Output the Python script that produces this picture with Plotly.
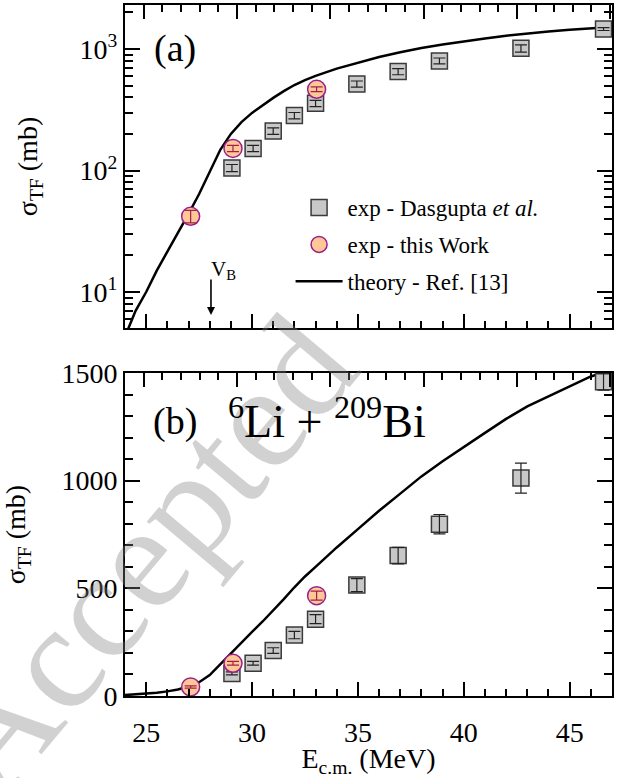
import plotly.graph_objects as go

# ---------------- data ----------------
E_das = [29.05, 30.05, 31.0, 32.0, 33.0, 34.95, 36.9, 38.85, 42.7, 46.6]
sig_das = [105, 152, 211, 283, 357, 515, 652, 798, 1012, 1460]
err_das = [7, 9, 13, 17, 21, 30, 38, 45, 70, 40]

E_tw = [27.1, 29.1, 33.05]
sig_tw = [42, 152, 466]
err_tw = [5, 9, 21]

E_th = [24.0, 24.5, 25.0, 25.5, 26.0, 26.5, 27.0, 27.5, 28.0, 28.5, 29.0, 29.5,
        30.0, 30.5, 31.0, 31.5, 32.0, 32.5, 33.0, 34.0, 35.0, 36.0, 37.0, 38.0,
        39.0, 40.0, 41.0, 42.0, 43.0, 44.0, 45.0, 46.0, 47.0]
sig_th = [4.3, 7.0, 10.0, 15.0, 21.5, 30.5, 44, 64, 97, 148, 200, 250,
          298, 346, 396, 450, 505, 555, 600, 690, 775, 860, 940, 1020,
          1090, 1158, 1222, 1287, 1345, 1392, 1437, 1484, 1515]

V_B = 28.06

FONT = "Liberation Serif, Times New Roman, serif"
SQ_FILL, SQ_LINE = "#c8c8c8", "#3a3a3a"
CI_FILL, CI_LINE = "#ffc896", "#9b1f8a"

fig = go.Figure()

for k, (xa, ya) in enumerate([("x", "y"), ("x2", "y2")]):
    first = (k == 0)
    fig.add_trace(go.Scatter(x=E_th, y=sig_th, mode="lines", xaxis=xa, yaxis=ya,
                             line=dict(color="black", width=2.5),
                             name="theory - Ref. [13]", showlegend=first, legendrank=3,
                             legendgroup="th"))
    fig.add_trace(go.Scatter(x=E_das, y=sig_das, mode="markers", xaxis=xa, yaxis=ya,
                             marker=dict(symbol="square", size=16, color=SQ_FILL,
                                         line=dict(color=SQ_LINE, width=1.5)),
                             name="exp - Dasgupta <i>et al.</i>", showlegend=first,
                             legendrank=1, legendgroup="das"))
    fig.add_trace(go.Scatter(x=E_das, y=sig_das, mode="markers", xaxis=xa, yaxis=ya,
                             marker=dict(size=1, opacity=0),
                             error_y=dict(type="data", array=err_das, color="#222222",
                                          thickness=1.2, width=6),
                             showlegend=False, hoverinfo="skip", legendgroup="das"))
    fig.add_trace(go.Scatter(x=E_tw, y=sig_tw, mode="markers", xaxis=xa, yaxis=ya,
                             marker=dict(symbol="circle", size=18, color=CI_FILL,
                                         line=dict(color=CI_LINE, width=1.5)),
                             name="exp - this Work", showlegend=first, legendrank=2,
                             legendgroup="tw"))
    fig.add_trace(go.Scatter(x=E_tw, y=sig_tw, mode="markers", xaxis=xa, yaxis=ya,
                             marker=dict(size=1, opacity=0),
                             error_y=dict(type="data", array=err_tw, color="#a0204a",
                                          thickness=1.2, width=6),
                             showlegend=False, hoverinfo="skip", legendgroup="tw"))

# dummy traces for top (mirror) axes
fig.add_trace(go.Scatter(x=[], y=[], xaxis="x3", yaxis="y", showlegend=False))
fig.add_trace(go.Scatter(x=[], y=[], xaxis="x4", yaxis="y2", showlegend=False))

tickfont = dict(family=FONT, size=28, color="black")
common_x = dict(showline=True, linewidth=2, linecolor="black", ticks="inside",
                ticklen=14, tickwidth=1.5, tickcolor="black", showgrid=False,
                zeroline=False, tick0=0, dtick=5,
                minor=dict(ticks="inside", ticklen=7, tickwidth=1.5, tickcolor="black",
                           dtick=1, tick0=0, showgrid=False))
top_x = dict(common_x, range=[24, 50.1], side="top", showticklabels=False)

dec_minor = [m * 10 ** e for e in range(0, 4) for m in range(2, 10)]

D_TOP = [0.5326, 1.0]
D_BOT = [0.0, 0.4674]

ytitle_font = dict(family=FONT, size=28, color="black")

fig.update_layout(
    width=622, height=778,
    margin=dict(l=125, r=10, t=5, b=82, autoexpand=False),
    paper_bgcolor="white", plot_bgcolor="white",
    font=dict(family=FONT, color="black"),
    xaxis=dict(common_x, range=[24, 47], anchor="y", domain=[0, 1], showticklabels=False),
    xaxis3=dict(top_x, overlaying="x", anchor="y"),
    xaxis2=dict(common_x, range=[24, 47], anchor="y2", domain=[0, 1],
                tickfont=tickfont, ticklabelstandoff=10,
                title=dict(text="E<sub>c.m.</sub> (MeV)", font=dict(family=FONT, size=28),
                           standoff=6)),
    xaxis4=dict(top_x, overlaying="x2", anchor="y2"),
    yaxis=dict(type="log", range=[0.704, 3.362], domain=D_TOP, anchor="x",
               showline=True, linewidth=2, linecolor="black", mirror="ticks",
               ticks="inside", ticklen=15, tickwidth=1.5, tickcolor="black",
               tickvals=[10, 100, 1000],
               ticktext=["10<sup>1</sup>", "10<sup>2</sup>", "10<sup>3</sup>"],
               tickfont=tickfont, showgrid=False, zeroline=False,
               minor=dict(ticks="inside", ticklen=8, tickwidth=1.5, tickcolor="black",
                          tickvals=dec_minor, showgrid=False),
               title=dict(text="σ<sub>TF</sub> (mb)", font=ytitle_font, standoff=34)),
    yaxis2=dict(range=[0, 1500], domain=D_BOT, anchor="x2",
                showline=True, linewidth=2, linecolor="black", mirror="ticks",
                ticks="inside", ticklen=15, tickwidth=1.5, tickcolor="black",
                tick0=0, dtick=500, tickfont=tickfont, showgrid=False, zeroline=False,
                minor=dict(ticks="inside", ticklen=8, tickwidth=1.5, tickcolor="black",
                           dtick=100, tick0=0, showgrid=False),
                title=dict(text="σ<sub>TF</sub> (mb)", font=ytitle_font, standoff=32)),
    legend=dict(x=0.34, y=0.738, xanchor="left", yanchor="top",
                bgcolor="rgba(0,0,0,0)", font=dict(family=FONT, size=23, color="black"),
                tracegroupgap=4, itemwidth=47),
    showlegend=True,
)

# watermark (added first so other annotations sit above it)
fig.add_annotation(text="Accepted", xref="paper", yref="paper",
                   x=(142 - 125) / 487, y=1 - (555 - 5) / 691,
                   xanchor="center", yanchor="middle", showarrow=False,
                   textangle=-50, font=dict(family=FONT, size=150,
                                            color="rgba(128,128,128,0.36)"))

# panel labels
fig.add_annotation(text="(a)", xref="paper", yref="paper", x=(175 - 125) / 487,
                   y=1 - (48 - 5) / 691, xanchor="center", yanchor="middle",
                   showarrow=False, font=dict(family=FONT, size=38, color="black"))
fig.add_annotation(text="(b)", xref="paper", yref="paper", x=(175 - 125) / 487,
                   y=1 - (422 - 5) / 691, xanchor="center", yanchor="middle",
                   showarrow=False, font=dict(family=FONT, size=38, color="black"))
fig.add_annotation(text="<sup>6</sup>Li + <sup>209</sup>Bi", xref="paper", yref="paper",
                   x=(226 - 125) / 487, y=1 - (418 - 5) / 691, xanchor="left",
                   yanchor="middle", showarrow=False,
                   font=dict(family=FONT, size=46, color="black"))

# V_B arrow
fig.add_annotation(x=V_B, y=0.811, xref="x", yref="y", text="", showarrow=True,
                   ax=0, ay=-37, arrowhead=2, arrowsize=1, arrowwidth=1.6,
                   arrowcolor="black")
fig.add_annotation(x=V_B, y=1.18, xref="x", yref="y", text="V<sub>B</sub>",
                   xanchor="left", yanchor="middle", xshift=-2, showarrow=False,
                   font=dict(family=FONT, size=21, color="black"))

fig.write_html("out.html")
